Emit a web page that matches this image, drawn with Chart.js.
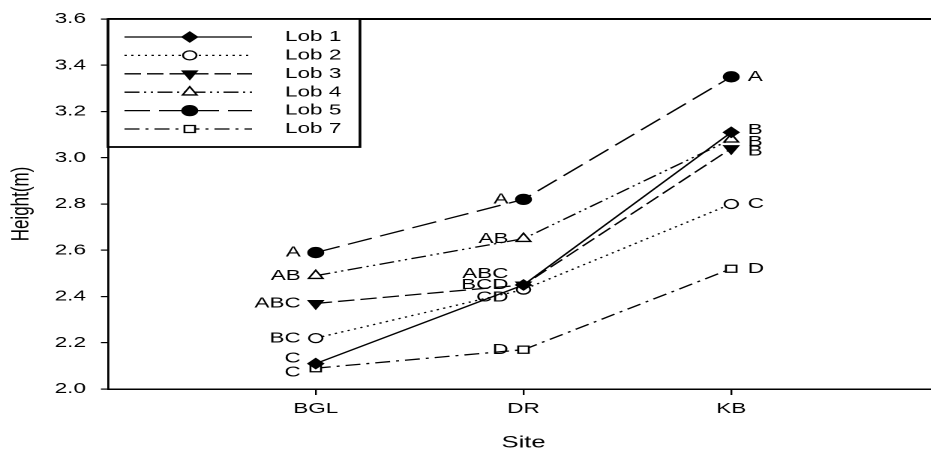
<!DOCTYPE html>
<html>
<head>
<meta charset="utf-8">
<title>Height by site</title>
<script src="https://cdn.jsdelivr.net/npm/chart.js@4.4.1/dist/chart.umd.min.js"></script>
<style>
  html, body { margin: 0; padding: 0; background: #fff; }
  #frame { width: 931px; height: 455px; overflow: hidden; position: relative; }
  /* the figure is drawn on a narrow canvas and widened horizontally */
  #wide { width: 640px; height: 455px; transform: scaleX(1.5); transform-origin: 0 0; }
</style>
</head>
<body>
<div id="frame"><div id="wide"><canvas id="chart" width="640" height="455"></canvas></div></div>
<script>
const sites = ['BGL', 'DR', 'KB'];
const lobs = ['Lob 1', 'Lob 2', 'Lob 3', 'Lob 4', 'Lob 5', 'Lob 7'];

// mean height (m) at each site
const lob1 = [2.11, 2.45, 3.11];
const lob2 = [2.22, 2.43, 2.80];
const lob3 = [2.37, 2.45, 3.04];
const lob4 = [2.49, 2.65, 3.08];
const lob5 = [2.59, 2.82, 3.35];
const lob7 = [2.09, 2.17, 2.52];

// mean separation letters at each site
const lob1Letters = ['C', 'BCD', 'B'];
const lob2Letters = ['BC', 'CD', 'C'];
const lob3Letters = ['ABC', 'ABC', 'B'];
const lob4Letters = ['AB', 'AB', 'B'];
const lob5Letters = ['A', 'A', 'A'];
const lob7Letters = ['C', 'D', 'D'];

const yTicks = [2.0, 2.2, 2.4, 2.6, 2.8, 3.0, 3.2, 3.4, 3.6];

const values = [lob1, lob2, lob3, lob4, lob5, lob7];
const letters = [lob1Letters, lob2Letters, lob3Letters, lob4Letters, lob5Letters, lob7Letters];

// line and marker look of each series
const looks = [
  { dash: [],                      style: 'rectRot',  rotation: 0,   radius: 5,   fill: '#000' },
  { dash: [1.5, 3],                style: 'circle',   rotation: 0,   radius: 4.5, fill: '#fff' },
  { dash: [11, 4],                 style: 'triangle', rotation: 180, radius: 5.5, fill: '#000' },
  { dash: [10, 3, 1.5, 3, 1.5, 3], style: 'triangle', rotation: 0,   radius: 5.5, fill: '#fff' },
  { dash: [17, 6],                 style: 'circle',   rotation: 0,   radius: 5,   fill: '#000' },
  { dash: [10, 4, 2, 4],           style: 'rect',     rotation: 0,   radius: 5,   fill: '#fff' }
];

// vertical shifts that keep crowded letters apart (series-site)
const letterNudge = { '0-0': -5, '5-0': 4, '2-1': -11, '1-1': 8, '0-2': -2.5, '3-2': 2.5, '2-2': 3 };

const FONT = '"Liberation Sans", Arial, sans-serif';
Chart.defaults.font.family = FONT;
Chart.defaults.color = '#000';

const datasets = lobs.map((name, i) => ({
  label: name,
  data: values[i].map((v, j) => ({ x: j + 1, y: v })),
  letters: letters[i],
  borderColor: '#000',
  borderWidth: 1.3,
  borderDash: looks[i].dash,
  pointStyle: looks[i].style,
  pointRotation: looks[i].rotation,
  pointRadius: looks[i].radius,
  pointHoverRadius: looks[i].radius,
  pointBackgroundColor: looks[i].fill,
  pointBorderColor: '#000',
  pointBorderWidth: 1.3,
  fill: false,
  tension: 0
}));

// top frame line
const frameTop = {
  id: 'frameTop',
  afterDraw(chart) {
    const { ctx, chartArea: a } = chart;
    ctx.save();
    ctx.strokeStyle = '#000';
    ctx.lineWidth = 2;
    ctx.beginPath();
    ctx.moveTo(a.left, a.top);
    ctx.lineTo(chart.width, a.top);
    ctx.stroke();
    ctx.restore();
  }
};

// letters beside each mean
const meanLetters = {
  id: 'meanLetters',
  afterDatasetsDraw(chart) {
    const ctx = chart.ctx;
    ctx.save();
    ctx.font = '15px ' + FONT;
    ctx.fillStyle = '#000';
    ctx.textBaseline = 'middle';
    chart.data.datasets.forEach((ds, i) => {
      chart.getDatasetMeta(i).data.forEach((pt, j) => {
        const onRight = j === sites.length - 1;
        ctx.textAlign = onRight ? 'left' : 'right';
        const dy = letterNudge[i + '-' + j] || 0;
        ctx.fillText(ds.letters[j], pt.x + (onRight ? 11 : -10), pt.y + dy);
      });
    });
    ctx.restore();
  }
};

// boxed legend in the upper-left corner
const boxLegend = {
  id: 'boxLegend',
  afterDraw(chart) {
    const ctx = chart.ctx, a = chart.chartArea;
    const x0 = a.left, y0 = a.top, w = 168, h = 128;
    ctx.save();
    ctx.fillStyle = '#fff';
    ctx.fillRect(x0, y0, w, h);
    ctx.strokeStyle = '#000';
    ctx.lineWidth = 1.8;
    ctx.strokeRect(x0, y0, w, h);
    chart.data.datasets.forEach((ds, i) => {
      const y = y0 + 18 + i * 18.4;
      ctx.strokeStyle = '#000';
      ctx.lineWidth = ds.borderWidth;
      ctx.setLineDash(ds.borderDash);
      ctx.beginPath();
      ctx.moveTo(x0 + 11, y);
      ctx.lineTo(x0 + 96, y);
      ctx.stroke();
      ctx.setLineDash([]);
      ctx.fillStyle = ds.pointBackgroundColor;
      ctx.lineWidth = ds.pointBorderWidth;
      Chart.helpers.drawPoint(ctx, {
        pointStyle: ds.pointStyle,
        rotation: ds.pointRotation,
        radius: ds.pointRadius,
        borderWidth: ds.pointBorderWidth
      }, x0 + 54.5, y);
      ctx.fillStyle = '#000';
      ctx.font = '15px ' + FONT;
      ctx.textAlign = 'left';
      ctx.textBaseline = 'middle';
      ctx.fillText(ds.label, x0 + 118, y);
    });
    ctx.restore();
  }
};

new Chart(document.getElementById('chart'), {
  type: 'line',
  data: { datasets },
  options: {
    responsive: false,
    devicePixelRatio: 2,
    animation: false,
    layout: { padding: { left: 0, right: 14, top: 15, bottom: 0 } },
    plugins: { legend: { display: false }, tooltip: { enabled: false } },
    scales: {
      x: {
        type: 'linear',
        min: 0,
        max: 4,
        afterBuildTicks: s => { s.ticks = sites.map((_, k) => ({ value: k + 1 })); },
        afterFit: s => { s.height = 66; },
        ticks: {
          callback: v => sites[v - 1] ?? '',
          font: { size: 15 },
          color: '#000',
          padding: 5,
          maxRotation: 0,
          autoSkip: false
        },
        grid: { drawOnChartArea: false, drawTicks: true, tickLength: 6, tickColor: '#000', color: '#000', lineWidth: 1.2 },
        border: { display: true, color: '#000', width: 1.5 },
        title: { display: true, text: 'Site', font: { size: 17 }, color: '#000', padding: { top: 0, bottom: 2 } }
      },
      y: {
        type: 'linear',
        min: 2.0,
        max: 3.6,
        afterBuildTicks: s => { s.ticks = yTicks.map(v => ({ value: v })); },
        afterFit: s => { s.width = 72; },
        ticks: {
          callback: v => Number(v).toFixed(1),
          font: { size: 15 },
          color: '#000',
          padding: 10
        },
        grid: { drawOnChartArea: false, drawTicks: true, tickLength: 4.7, tickColor: '#000', color: '#000', lineWidth: 1.2 },
        border: { display: true, color: '#000', width: 1.4 },
        title: { display: true, text: 'Height(m)', font: { size: 17 }, color: '#000', padding: { top: 4, bottom: 0 } }
      }
    }
  },
  plugins: [meanLetters, frameTop, boxLegend]
});
</script>
</body>
</html>
